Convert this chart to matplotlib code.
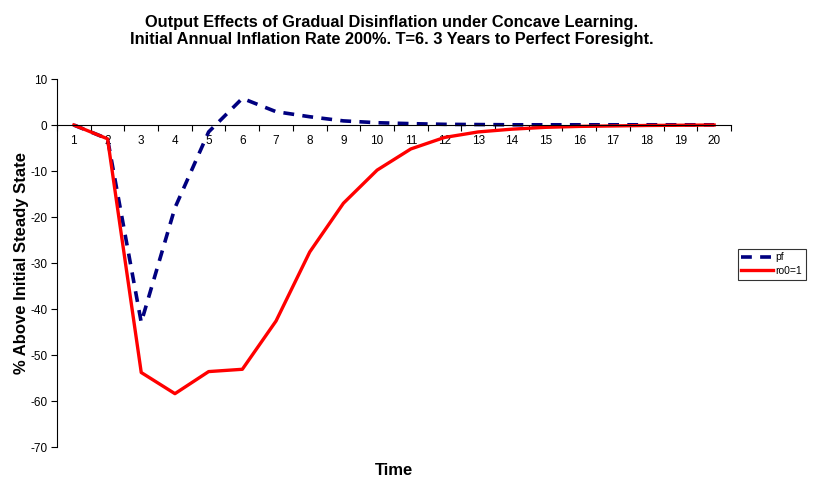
import numpy as np
import matplotlib
matplotlib.use("Agg")
import matplotlib.pyplot as plt
from matplotlib.ticker import FixedLocator

plt.rcParams['font.family'] = ['Liberation Sans', 'DejaVu Sans']
plt.rcParams['axes.unicode_minus'] = False

# data
periods = list(range(1, 21))
pf = [0, -3.0, -42.9, -18.0, -1.5, 5.8, 2.9, 1.8, 0.9, 0.5,
      0.3, 0.15, 0.1, 0.05, 0.05, 0.05, 0.05, 0.05, 0.05, 0.05]
ro0 = [0, -3.0, -53.8, -58.4, -53.6, -53.1, -42.6, -27.6, -17.0, -9.8,
       -5.2, -2.7, -1.5, -0.9, -0.5, -0.3, -0.2, -0.1, -0.05, 0]
yticks = list(range(-70, 11, 10))

fig = plt.figure(figsize=(8.13, 4.86), dpi=100)
ax = fig.add_axes([0.0701, 0.0802, 0.829, 0.7572])

ax.plot(periods, pf, color='#000080', lw=2.6, linestyle=(0, (3, 2.3)), label='pf')
ax.plot(periods, ro0, color='#ff0000', lw=2.4, label='ro0=1')

ax.set_xlim(0.5, 20.5)
ax.set_ylim(-70, 10)
ax.set_yticks(yticks)
ax.tick_params(axis='y', direction='out', length=4, labelsize=8.5, pad=3)

# category axis crossing at zero
ax.spines['bottom'].set_position(('data', 0))
ax.spines['top'].set_visible(False)
ax.spines['right'].set_visible(False)
ax.xaxis.set_major_locator(FixedLocator(np.arange(0.5, 21, 1)))
ax.xaxis.set_major_formatter(plt.NullFormatter())
ax.set_xticks(periods, [str(p) for p in periods], minor=True)
ax.tick_params(axis='x', which='major', direction='out', length=4)
ax.tick_params(axis='x', which='minor', length=0, labelsize=8.5, pad=7)

ax.set_xlabel('Time', fontsize=12, fontweight='bold')
ax.xaxis.set_label_coords(0.5, -0.043)
ax.set_ylabel('% Above Initial Steady State', fontsize=12, fontweight='bold')
ax.yaxis.set_label_coords(-0.042, 0.5)

fig.suptitle('Output Effects of Gradual Disinflation under Concave Learning.\n'
             'Initial Annual Inflation Rate 200%. T=6. 3 Years to Perfect Foresight.',
             x=0.482, y=0.97, fontsize=11.8, fontweight='bold', linespacing=1.22)

leg = ax.legend(loc='center left', bbox_to_anchor=(1.01, 0.497), fontsize=7.5,
                frameon=True, fancybox=False, edgecolor='black', handlelength=3.0,
                borderpad=0.35, labelspacing=0.35, handletextpad=0.25, borderaxespad=0)
leg.get_frame().set_linewidth(0.8)

fig.savefig('out.png', dpi=100)
